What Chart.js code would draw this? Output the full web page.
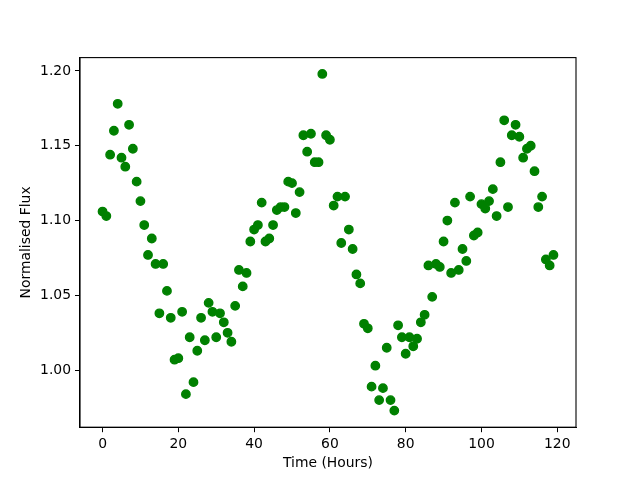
<!DOCTYPE html>
<html>
<head>
<meta charset="utf-8">
<script src="https://cdn.jsdelivr.net/npm/chart.js@4.4.1/dist/chart.umd.min.js"></script>
<style>
  html, body { margin: 0; padding: 0; background: #fff; }
  #wrap { width: 640px; height: 480px; }
</style>
</head>
<body>
<div id="wrap"><canvas id="fluxCanvas" width="640" height="480"></canvas></div>
<script>
// time of each observation (hours)
const hours = [
  0, 1, 2, 3, 4, 5, 6, 7, 8, 9, 10, 11, 12, 13, 14, 15, 16, 17, 18, 19,
  20, 21, 22, 23, 24, 25, 26, 27, 28, 29, 30, 31, 32, 33, 34, 35, 36, 37, 38, 39,
  40, 41, 42, 43, 44, 45, 46, 47, 48, 49, 50, 51, 52, 53, 54, 55, 56, 57, 58, 59,
  60, 61, 62, 63, 64, 65, 66, 67, 68, 69, 70, 71, 72, 73, 74, 75, 76, 77, 78, 79,
  80, 81, 82, 83, 84, 85, 86, 87, 88, 89, 90, 91, 92, 93, 94, 95, 96, 97, 98, 99,
  100, 101, 102, 103, 104, 105, 106, 107, 108, 109, 110, 111, 112, 113, 114, 115, 116, 117, 118, 119
];

// normalised flux
const flux = [
  1.106, 1.103, 1.144, 1.160, 1.178, 1.142, 1.136, 1.164, 1.148, 1.126,
  1.113, 1.097, 1.077, 1.088, 1.071, 1.038, 1.071, 1.053, 1.035, 1.007,
  1.008, 1.039, 0.984, 1.022, 0.992, 1.013, 1.035, 1.020, 1.045, 1.039,
  1.022, 1.038, 1.032, 1.025, 1.019, 1.043, 1.067, 1.056, 1.065, 1.086,
  1.094, 1.097, 1.112, 1.086, 1.088, 1.097, 1.107, 1.109, 1.109, 1.126,
  1.125, 1.105, 1.119, 1.157, 1.146, 1.158, 1.139, 1.139, 1.198, 1.157,
  1.154, 1.110, 1.116, 1.085, 1.116, 1.094, 1.081, 1.064, 1.058, 1.031,
  1.028, 0.989, 1.003, 0.980, 0.988, 1.015, 0.980, 0.973, 1.030, 1.022,
  1.011, 1.022, 1.016, 1.021, 1.032, 1.037, 1.070, 1.049, 1.071, 1.069,
  1.086, 1.100, 1.065, 1.112, 1.067, 1.081, 1.073, 1.116, 1.090, 1.092,
  1.111, 1.108, 1.113, 1.121, 1.103, 1.139, 1.167, 1.109, 1.157, 1.164,
  1.156, 1.142, 1.148, 1.150, 1.133, 1.109, 1.116, 1.074, 1.070, 1.077
];

const xTicks = [0, 20, 40, 60, 80, 100, 120];
const yTicks = [1.00, 1.05, 1.10, 1.15, 1.20];

const font = { family: 'DejaVu Sans', size: 13.9 };

// matplotlib draws a box round the whole axes
const frame = {
  id: 'frame',
  afterDraw(chart) {
    const { ctx, chartArea: a } = chart;
    ctx.save();
    ctx.strokeStyle = '#000';
    ctx.lineWidth = 1.1;
    ctx.strokeRect(a.left, a.top, a.right - a.left, a.bottom - a.top);
    ctx.restore();
  }
};

const ctx = document.getElementById('fluxCanvas').getContext('2d');

new Chart(ctx, {
  type: 'scatter',
  data: {
    datasets: [{
      data: hours.map((h, i) => ({ x: h, y: flux[i] })),
      backgroundColor: '#008000',
      borderColor: '#008000',
      borderWidth: 1.4,
      pointRadius: 4.2,
      pointHoverRadius: 4.2
    }]
  },
  options: {
    responsive: false,
    animation: false,
    events: [],
    layout: { padding: { top: 57.6, right: 64, bottom: 8, left: 18 } },
    plugins: { legend: { display: false }, tooltip: { enabled: false } },
    scales: {
      x: {
        type: 'linear',
        min: -5.95,
        max: 124.95,
        afterFit: s => { s.height = 480 - 8 - 427.2; },
        afterBuildTicks: s => { s.ticks = xTicks.map(v => ({ value: v })); },
        grid: { drawOnChartArea: false, tickLength: 5, tickColor: '#000', tickWidth: 1 },
        border: { color: '#000', width: 1.1 },
        ticks: { color: '#000', font, padding: 4, maxRotation: 0, callback: v => String(v) },
        title: { display: true, text: 'Time (Hours)', color: '#000', font, padding: 0 }
      },
      y: {
        min: 0.9619,
        max: 1.2089,
        afterFit: s => { s.width = 80 - 18; },
        afterBuildTicks: s => { s.ticks = yTicks.map(v => ({ value: v })); },
        grid: { drawOnChartArea: false, tickLength: 5, tickColor: '#000', tickWidth: 1 },
        border: { color: '#000', width: 1.1 },
        ticks: { color: '#000', font, padding: 4, callback: v => v.toFixed(2) },
        title: { display: true, text: 'Normalised Flux', color: '#000', font, padding: 0 }
      }
    }
  },
  plugins: [frame]
});
</script>
</body>
</html>
